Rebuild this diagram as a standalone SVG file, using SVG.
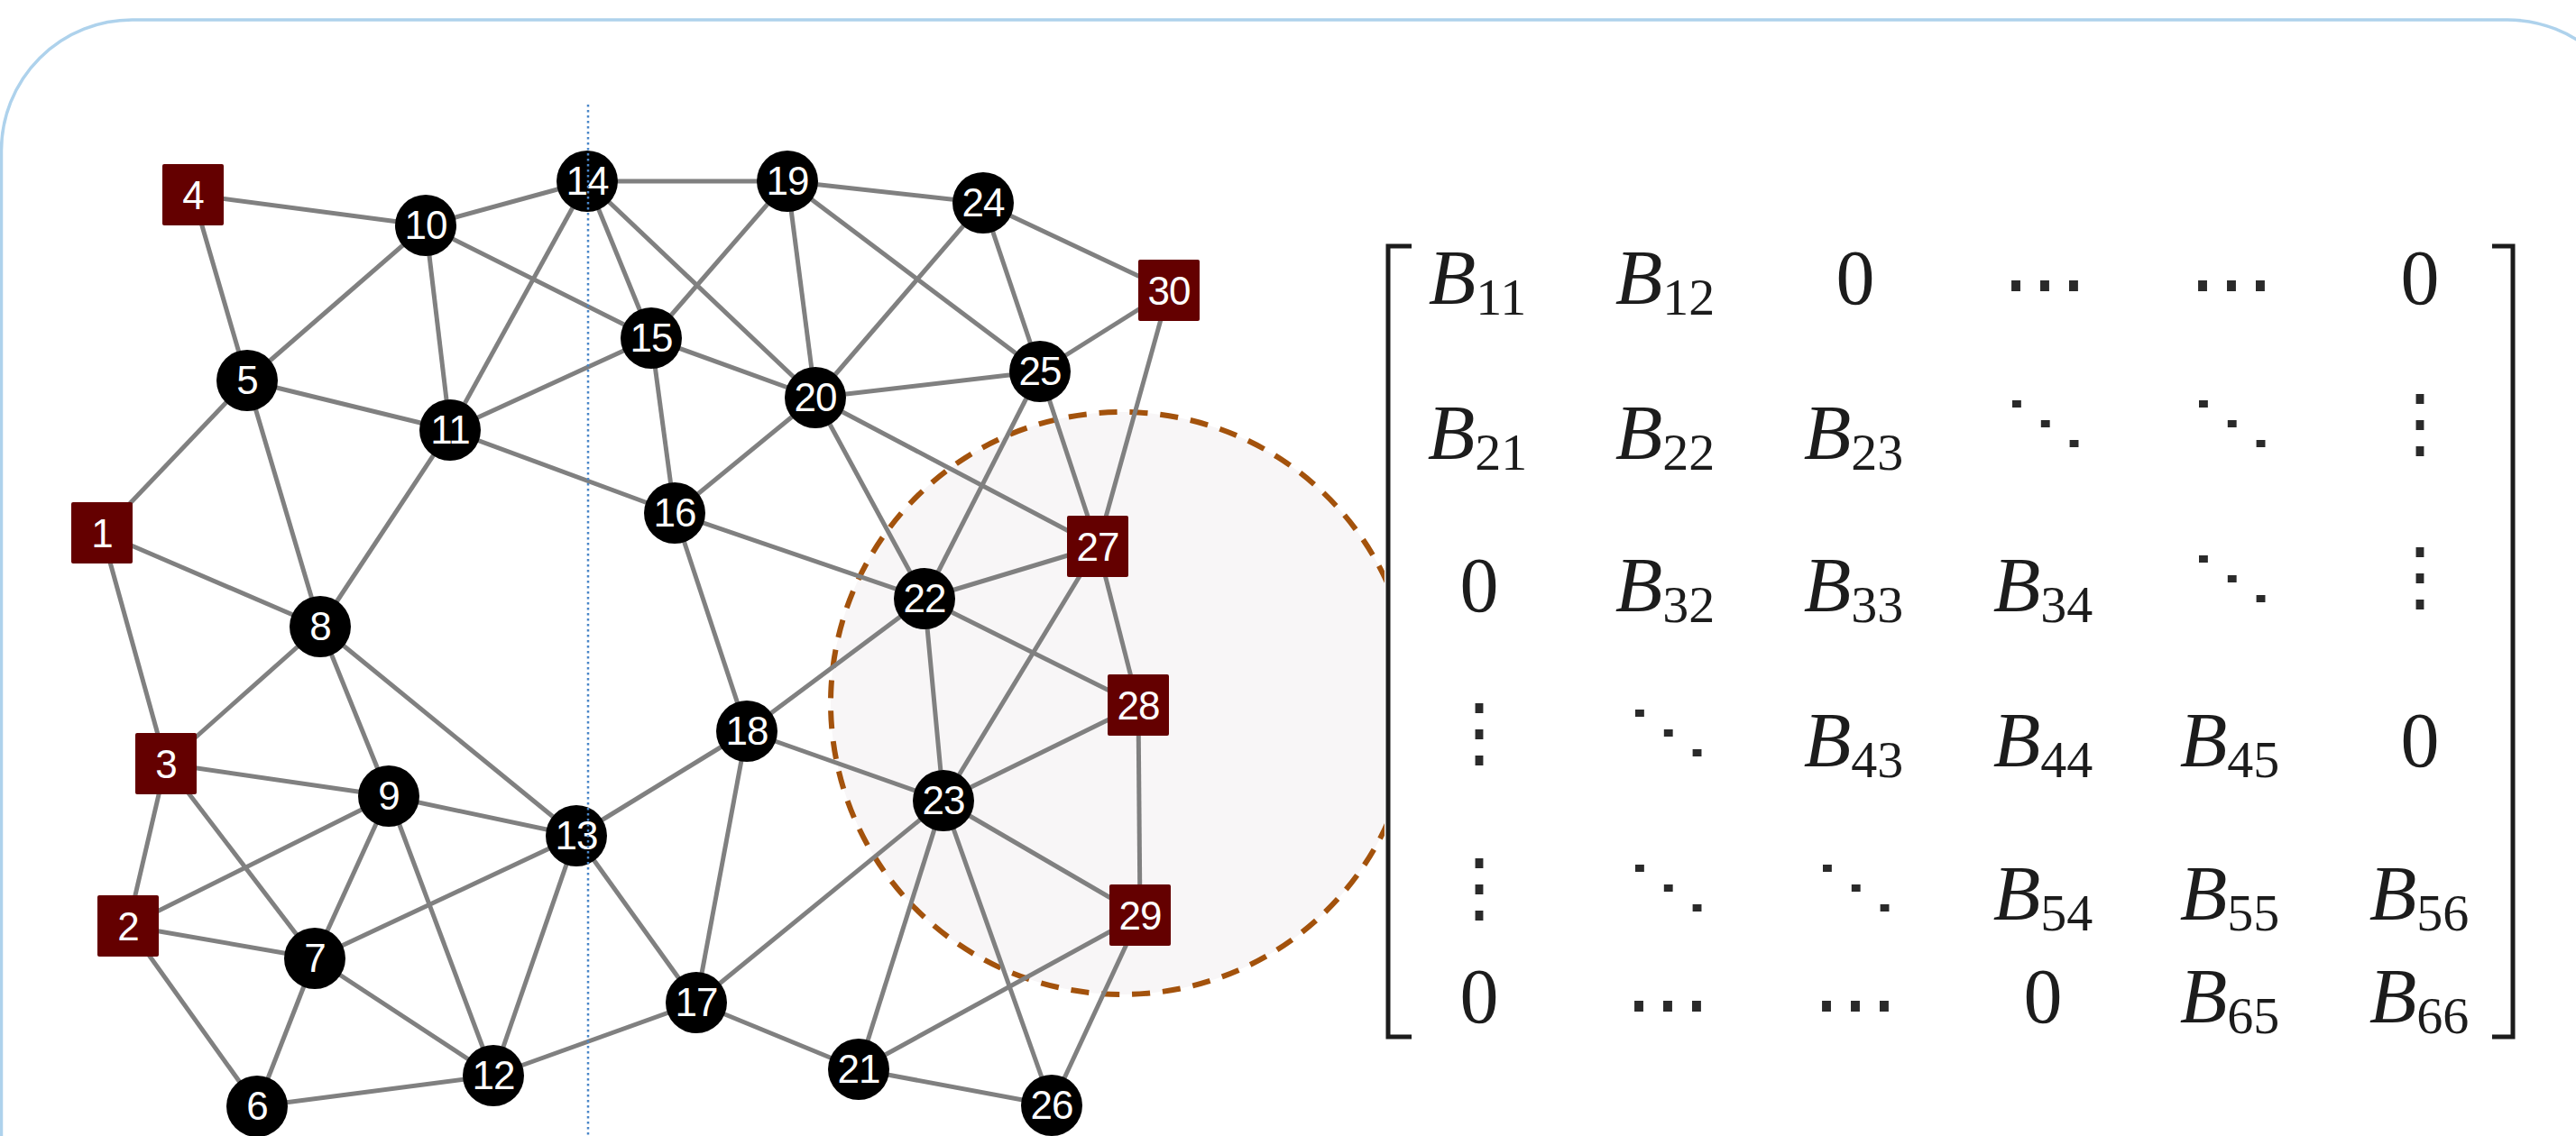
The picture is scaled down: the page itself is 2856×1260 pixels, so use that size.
<svg xmlns="http://www.w3.org/2000/svg" width="2856" height="1260" viewBox="0 0 2856 1260">
<style>
.frame{fill:none;stroke:#aed2ec;stroke-width:3.5}
.e{stroke:#808080;stroke-width:5}
.c{fill:#000}
.s{fill:#640000}
.lbl{fill:#fff;font-family:"Liberation Sans",Arial,sans-serif;font-size:44px;letter-spacing:-1px;text-anchor:middle}
.m{font-family:"Liberation Serif","Times New Roman",serif;font-size:86px;fill:#1c1c1c;text-anchor:middle}
.b{font-style:italic}
.sub{font-size:58px;font-style:normal}
.h{font-family:"DejaVu Sans",sans-serif;font-weight:200;font-size:96px;fill:#2a2a2a;text-anchor:middle}
.v{font-family:"DejaVu Sans",sans-serif;font-weight:200;font-size:86px;fill:#2a2a2a;text-anchor:middle}
</style>
<rect width="2856" height="1260" fill="#fff"/>
<path class="frame" d="M1.5,1300 V167 A145,145 0 0 1 146.5,22 H2780 A145,145 0 0 1 2925,167 V1300"/>
<circle cx="1244" cy="780" r="323" fill="#f8f6f7" stroke="#a3520c" stroke-width="6" stroke-dasharray="20 14"/>
<g id="edges">
<line class="e" x1="214" y1="216" x2="472" y2="250"/>
<line class="e" x1="214" y1="216" x2="274" y2="422"/>
<line class="e" x1="472" y1="250" x2="651" y2="201"/>
<line class="e" x1="472" y1="250" x2="274" y2="422"/>
<line class="e" x1="472" y1="250" x2="499" y2="477"/>
<line class="e" x1="472" y1="250" x2="722" y2="375"/>
<line class="e" x1="651" y1="201" x2="873" y2="201"/>
<line class="e" x1="651" y1="201" x2="499" y2="477"/>
<line class="e" x1="651" y1="201" x2="722" y2="375"/>
<line class="e" x1="651" y1="201" x2="904" y2="441"/>
<line class="e" x1="873" y1="201" x2="722" y2="375"/>
<line class="e" x1="873" y1="201" x2="904" y2="441"/>
<line class="e" x1="873" y1="201" x2="1090" y2="225"/>
<line class="e" x1="873" y1="201" x2="1153" y2="412"/>
<line class="e" x1="274" y1="422" x2="499" y2="477"/>
<line class="e" x1="274" y1="422" x2="113" y2="591"/>
<line class="e" x1="274" y1="422" x2="355" y2="695"/>
<line class="e" x1="499" y1="477" x2="722" y2="375"/>
<line class="e" x1="499" y1="477" x2="355" y2="695"/>
<line class="e" x1="499" y1="477" x2="748" y2="569"/>
<line class="e" x1="722" y1="375" x2="904" y2="441"/>
<line class="e" x1="722" y1="375" x2="748" y2="569"/>
<line class="e" x1="904" y1="441" x2="748" y2="569"/>
<line class="e" x1="904" y1="441" x2="1153" y2="412"/>
<line class="e" x1="904" y1="441" x2="1090" y2="225"/>
<line class="e" x1="904" y1="441" x2="1025" y2="664"/>
<line class="e" x1="904" y1="441" x2="1217" y2="606"/>
<line class="e" x1="748" y1="569" x2="1025" y2="664"/>
<line class="e" x1="748" y1="569" x2="828" y2="811"/>
<line class="e" x1="113" y1="591" x2="355" y2="695"/>
<line class="e" x1="113" y1="591" x2="184" y2="847"/>
<line class="e" x1="355" y1="695" x2="184" y2="847"/>
<line class="e" x1="355" y1="695" x2="431" y2="883"/>
<line class="e" x1="355" y1="695" x2="639" y2="927"/>
<line class="e" x1="184" y1="847" x2="431" y2="883"/>
<line class="e" x1="184" y1="847" x2="349" y2="1063"/>
<line class="e" x1="184" y1="847" x2="142" y2="1027"/>
<line class="e" x1="431" y1="883" x2="142" y2="1027"/>
<line class="e" x1="431" y1="883" x2="349" y2="1063"/>
<line class="e" x1="431" y1="883" x2="639" y2="927"/>
<line class="e" x1="431" y1="883" x2="547" y2="1193"/>
<line class="e" x1="142" y1="1027" x2="349" y2="1063"/>
<line class="e" x1="142" y1="1027" x2="285" y2="1227"/>
<line class="e" x1="349" y1="1063" x2="639" y2="927"/>
<line class="e" x1="349" y1="1063" x2="547" y2="1193"/>
<line class="e" x1="349" y1="1063" x2="285" y2="1227"/>
<line class="e" x1="285" y1="1227" x2="547" y2="1193"/>
<line class="e" x1="547" y1="1193" x2="639" y2="927"/>
<line class="e" x1="547" y1="1193" x2="772" y2="1112"/>
<line class="e" x1="639" y1="927" x2="828" y2="811"/>
<line class="e" x1="639" y1="927" x2="772" y2="1112"/>
<line class="e" x1="828" y1="811" x2="772" y2="1112"/>
<line class="e" x1="828" y1="811" x2="1025" y2="664"/>
<line class="e" x1="828" y1="811" x2="1046" y2="888"/>
<line class="e" x1="772" y1="1112" x2="1046" y2="888"/>
<line class="e" x1="772" y1="1112" x2="952" y2="1186"/>
<line class="e" x1="952" y1="1186" x2="1046" y2="888"/>
<line class="e" x1="952" y1="1186" x2="1166" y2="1226"/>
<line class="e" x1="952" y1="1186" x2="1264" y2="1015"/>
<line class="e" x1="1090" y1="225" x2="1153" y2="412"/>
<line class="e" x1="1090" y1="225" x2="1296" y2="322"/>
<line class="e" x1="1296" y1="322" x2="1153" y2="412"/>
<line class="e" x1="1296" y1="322" x2="1217" y2="606"/>
<line class="e" x1="1153" y1="412" x2="1025" y2="664"/>
<line class="e" x1="1153" y1="412" x2="1217" y2="606"/>
<line class="e" x1="1025" y1="664" x2="1217" y2="606"/>
<line class="e" x1="1025" y1="664" x2="1046" y2="888"/>
<line class="e" x1="1025" y1="664" x2="1262" y2="782"/>
<line class="e" x1="1217" y1="606" x2="1046" y2="888"/>
<line class="e" x1="1217" y1="606" x2="1262" y2="782"/>
<line class="e" x1="1262" y1="782" x2="1046" y2="888"/>
<line class="e" x1="1262" y1="782" x2="1264" y2="1015"/>
<line class="e" x1="1046" y1="888" x2="1264" y2="1015"/>
<line class="e" x1="1046" y1="888" x2="1166" y2="1226"/>
<line class="e" x1="1264" y1="1015" x2="1166" y2="1226"/>
</g>
<g id="n1"><rect class="s" x="79" y="557" width="68" height="68" rx="2"/><text class="lbl" x="113" y="607">1</text></g>
<g id="n2"><rect class="s" x="108" y="993" width="68" height="68" rx="2"/><text class="lbl" x="142" y="1043">2</text></g>
<g id="n3"><rect class="s" x="150" y="813" width="68" height="68" rx="2"/><text class="lbl" x="184" y="863">3</text></g>
<g id="n4"><rect class="s" x="180" y="182" width="68" height="68" rx="2"/><text class="lbl" x="214" y="232">4</text></g>
<g id="n5"><circle class="c" cx="274" cy="422" r="34"/><text class="lbl" x="274" y="437">5</text></g>
<g id="n6"><circle class="c" cx="285" cy="1227" r="34"/><text class="lbl" x="285" y="1242">6</text></g>
<g id="n7"><circle class="c" cx="349" cy="1063" r="34"/><text class="lbl" x="349" y="1078">7</text></g>
<g id="n8"><circle class="c" cx="355" cy="695" r="34"/><text class="lbl" x="355" y="710">8</text></g>
<g id="n9"><circle class="c" cx="431" cy="883" r="34"/><text class="lbl" x="431" y="898">9</text></g>
<g id="n10"><circle class="c" cx="472" cy="250" r="34"/><text class="lbl" x="472" y="265">10</text></g>
<g id="n11"><circle class="c" cx="499" cy="477" r="34"/><text class="lbl" x="499" y="492">11</text></g>
<g id="n12"><circle class="c" cx="547" cy="1193" r="34"/><text class="lbl" x="547" y="1208">12</text></g>
<g id="n13"><circle class="c" cx="639" cy="927" r="34"/><text class="lbl" x="639" y="942">13</text></g>
<g id="n14"><circle class="c" cx="651" cy="201" r="34"/><text class="lbl" x="651" y="216">14</text></g>
<g id="n15"><circle class="c" cx="722" cy="375" r="34"/><text class="lbl" x="722" y="390">15</text></g>
<g id="n16"><circle class="c" cx="748" cy="569" r="34"/><text class="lbl" x="748" y="584">16</text></g>
<g id="n17"><circle class="c" cx="772" cy="1112" r="34"/><text class="lbl" x="772" y="1127">17</text></g>
<g id="n18"><circle class="c" cx="828" cy="811" r="34"/><text class="lbl" x="828" y="826">18</text></g>
<g id="n19"><circle class="c" cx="873" cy="201" r="34"/><text class="lbl" x="873" y="216">19</text></g>
<g id="n20"><circle class="c" cx="904" cy="441" r="34"/><text class="lbl" x="904" y="456">20</text></g>
<g id="n21"><circle class="c" cx="952" cy="1186" r="34"/><text class="lbl" x="952" y="1201">21</text></g>
<g id="n22"><circle class="c" cx="1025" cy="664" r="34"/><text class="lbl" x="1025" y="679">22</text></g>
<g id="n23"><circle class="c" cx="1046" cy="888" r="34"/><text class="lbl" x="1046" y="903">23</text></g>
<g id="n24"><circle class="c" cx="1090" cy="225" r="34"/><text class="lbl" x="1090" y="240">24</text></g>
<g id="n25"><circle class="c" cx="1153" cy="412" r="34"/><text class="lbl" x="1153" y="427">25</text></g>
<g id="n26"><circle class="c" cx="1166" cy="1226" r="34"/><text class="lbl" x="1166" y="1241">26</text></g>
<g id="n27"><rect class="s" x="1183" y="572" width="68" height="68" rx="2"/><text class="lbl" x="1217" y="622">27</text></g>
<g id="n28"><rect class="s" x="1228" y="748" width="68" height="68" rx="2"/><text class="lbl" x="1262" y="798">28</text></g>
<g id="n29"><rect class="s" x="1230" y="981" width="68" height="68" rx="2"/><text class="lbl" x="1264" y="1031">29</text></g>
<g id="n30"><rect class="s" x="1262" y="288" width="68" height="68" rx="2"/><text class="lbl" x="1296" y="338">30</text></g>
<line x1="652" y1="116" x2="652" y2="1260" stroke="#4a86c8" stroke-width="2.5" stroke-dasharray="2.5 3.5"/>
<g id="matrix">
<rect x="1535" y="250" width="1290" height="930" fill="#fff"/>
<path d="M1565,273 H1539 V1150 H1565 M2763,273 H2786 V1150 H2763" fill="none" stroke="#1c1c1c" stroke-width="5"/>
<text class="m" x="1638" y="337"><tspan class="b">B</tspan><tspan class="sub" dy="12">11</tspan></text>
<text class="m" x="1846" y="337"><tspan class="b">B</tspan><tspan class="sub" dy="12">12</tspan></text>
<text class="m" x="2057" y="337">0</text>
<text class="h" x="2267" y="347">⋯</text>
<text class="h" x="2474" y="347">⋯</text>
<text class="m" x="2683" y="337">0</text>
<text class="m" x="1638" y="509"><tspan class="b">B</tspan><tspan class="sub" dy="12">21</tspan></text>
<text class="m" x="1846" y="509"><tspan class="b">B</tspan><tspan class="sub" dy="12">22</tspan></text>
<text class="m" x="2055" y="509"><tspan class="b">B</tspan><tspan class="sub" dy="12">23</tspan></text>
<text class="h" transform="translate(2268,469) scale(1,0.67)" y="31">⋱</text>
<text class="h" transform="translate(2475,469) scale(1,0.67)" y="31">⋱</text>
<text class="v" x="2683" y="498">⋮</text>
<text class="m" x="1640" y="678">0</text>
<text class="m" x="1846" y="678"><tspan class="b">B</tspan><tspan class="sub" dy="12">32</tspan></text>
<text class="m" x="2055" y="678"><tspan class="b">B</tspan><tspan class="sub" dy="12">33</tspan></text>
<text class="m" x="2265" y="678"><tspan class="b">B</tspan><tspan class="sub" dy="12">34</tspan></text>
<text class="h" transform="translate(2475,641) scale(1,0.67)" y="31">⋱</text>
<text class="v" x="2683" y="668">⋮</text>
<text class="v" x="1640" y="841">⋮</text>
<text class="h" transform="translate(1850,812) scale(1,0.67)" y="31">⋱</text>
<text class="m" x="2055" y="850"><tspan class="b">B</tspan><tspan class="sub" dy="12">43</tspan></text>
<text class="m" x="2265" y="850"><tspan class="b">B</tspan><tspan class="sub" dy="12">44</tspan></text>
<text class="m" x="2472" y="850"><tspan class="b">B</tspan><tspan class="sub" dy="12">45</tspan></text>
<text class="m" x="2683" y="850">0</text>
<text class="v" x="1640" y="1013">⋮</text>
<text class="h" transform="translate(1850,984) scale(1,0.67)" y="31">⋱</text>
<text class="h" transform="translate(2058,984) scale(1,0.67)" y="31">⋱</text>
<text class="m" x="2265" y="1020"><tspan class="b">B</tspan><tspan class="sub" dy="12">54</tspan></text>
<text class="m" x="2472" y="1020"><tspan class="b">B</tspan><tspan class="sub" dy="12">55</tspan></text>
<text class="m" x="2682" y="1020"><tspan class="b">B</tspan><tspan class="sub" dy="12">56</tspan></text>
<text class="m" x="1640" y="1134">0</text>
<text class="h" x="1849" y="1146">⋯</text>
<text class="h" x="2057" y="1146">⋯</text>
<text class="m" x="2265" y="1134">0</text>
<text class="m" x="2472" y="1134"><tspan class="b">B</tspan><tspan class="sub" dy="12">65</tspan></text>
<text class="m" x="2682" y="1134"><tspan class="b">B</tspan><tspan class="sub" dy="12">66</tspan></text>
</g>
</svg>
